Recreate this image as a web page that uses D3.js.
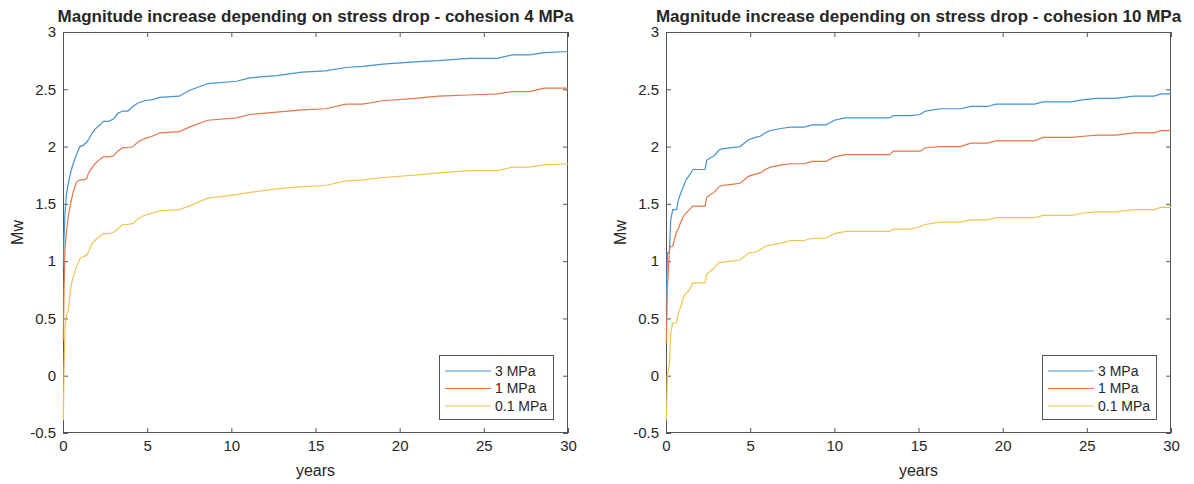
<!DOCTYPE html>
<html>
<head>
<meta charset="utf-8">
<script src="https://cdn.jsdelivr.net/npm/d3@7"></script>
<style>
  body { margin: 0; background: #fff; }
  text { font-family: "Liberation Sans", Arial, sans-serif; fill: #262626; }
</style>
</head>
<body>
<div id="chart"></div>
<script>
// series names and colours (legend order)
const seriesNames = ["3 MPa", "1 MPa", "0.1 MPa"];
const seriesColors = ["#4393d3", "#e2774a", "#f1c451"];

// cohesion 4 MPa panel
const yearsC4 = [0.02, 0.06, 0.12, 0.2, 0.32, 0.45, 0.6, 0.8, 1.0, 1.2, 1.4, 1.52, 1.7, 1.9, 2.2, 2.4, 2.7, 3.0, 3.25, 3.55, 3.85, 4.15, 4.45, 4.85, 5.3, 5.75, 6.9, 7.5, 8.6, 10.3, 11.1, 12.7, 14.2, 15.6, 16.8, 17.8, 19.0, 20.9, 22.3, 24.1, 25.8, 26.7, 27.7, 28.6, 30];
const mw3C4 = [0.95, 1.2, 1.42, 1.58, 1.68, 1.77, 1.85, 1.93, 2.0, 2.01, 2.04, 2.06, 2.11, 2.15, 2.19, 2.22, 2.22, 2.24, 2.29, 2.31, 2.31, 2.35, 2.38, 2.40, 2.41, 2.43, 2.44, 2.49, 2.55, 2.57, 2.60, 2.62, 2.65, 2.66, 2.69, 2.70, 2.72, 2.74, 2.75, 2.77, 2.77, 2.80, 2.80, 2.82, 2.83];
const mw1C4 = [0.31, 0.75, 1.1, 1.25, 1.4, 1.5, 1.6, 1.69, 1.71, 1.71, 1.72, 1.77, 1.81, 1.85, 1.89, 1.91, 1.91, 1.92, 1.96, 1.99, 1.99, 2.0, 2.04, 2.07, 2.09, 2.12, 2.13, 2.17, 2.23, 2.25, 2.28, 2.30, 2.32, 2.33, 2.37, 2.37, 2.40, 2.42, 2.44, 2.45, 2.46, 2.48, 2.48, 2.51, 2.51];
const mw01C4 = [-0.39, 0.05, 0.42, 0.52, 0.58, 0.76, 0.86, 0.95, 1.02, 1.04, 1.05, 1.08, 1.15, 1.18, 1.22, 1.24, 1.24, 1.25, 1.28, 1.32, 1.32, 1.33, 1.37, 1.40, 1.42, 1.44, 1.45, 1.48, 1.55, 1.58, 1.60, 1.63, 1.65, 1.66, 1.70, 1.71, 1.73, 1.75, 1.77, 1.79, 1.79, 1.82, 1.82, 1.84, 1.85];

// cohesion 10 MPa panel
const yearsC10 = [0.02, 0.08, 0.2, 0.28, 0.4, 0.63, 0.73, 0.87, 1.03, 1.19, 1.39, 1.6, 2.32, 2.42, 2.62, 2.86, 3.15, 3.31, 3.9, 4.4, 4.9, 5.3, 5.6, 5.9, 6.2, 6.9, 7.4, 8.2, 8.7, 9.5, 10.0, 10.65, 13.3, 13.5, 14.5, 15.1, 15.4, 16.3, 17.5, 18.1, 19.1, 19.6, 21.9, 22.4, 24.1, 24.8, 25.6, 26.7, 27.8, 29.0, 29.4, 30];
const mw3C10 = [0.57, 1.07, 1.08, 1.36, 1.45, 1.45, 1.53, 1.59, 1.65, 1.71, 1.75, 1.80, 1.80, 1.88, 1.90, 1.92, 1.97, 1.98, 1.99, 2.0, 2.06, 2.08, 2.09, 2.12, 2.14, 2.16, 2.17, 2.17, 2.19, 2.19, 2.23, 2.25, 2.25, 2.27, 2.27, 2.28, 2.31, 2.33, 2.33, 2.35, 2.35, 2.37, 2.37, 2.39, 2.39, 2.41, 2.42, 2.42, 2.44, 2.44, 2.46, 2.46];
const mw1C10 = [0.28, 0.75, 1.1, 1.13, 1.13, 1.26, 1.28, 1.34, 1.39, 1.42, 1.45, 1.48, 1.48, 1.56, 1.58, 1.60, 1.65, 1.66, 1.67, 1.68, 1.74, 1.76, 1.77, 1.80, 1.82, 1.84, 1.85, 1.85, 1.87, 1.87, 1.91, 1.93, 1.93, 1.96, 1.96, 1.96, 1.99, 2.0, 2.0, 2.03, 2.03, 2.05, 2.05, 2.08, 2.08, 2.09, 2.10, 2.10, 2.12, 2.12, 2.14, 2.14];
const mw01C10 = [-0.39, 0.01, 0.1, 0.37, 0.46, 0.46, 0.55, 0.6, 0.68, 0.72, 0.75, 0.81, 0.81, 0.89, 0.91, 0.94, 0.99, 0.99, 1.0, 1.01, 1.07, 1.08, 1.10, 1.13, 1.14, 1.16, 1.18, 1.18, 1.20, 1.20, 1.24, 1.26, 1.26, 1.28, 1.28, 1.30, 1.32, 1.34, 1.34, 1.36, 1.36, 1.38, 1.38, 1.40, 1.40, 1.42, 1.43, 1.43, 1.45, 1.45, 1.47, 1.47];

const xTicks = [0, 5, 10, 15, 20, 25, 30];
const yTicks = [-0.5, 0, 0.5, 1, 1.5, 2, 2.5, 3];

const panels = [
  { title: "Magnitude increase depending on stress drop - cohesion 4 MPa",
    years: yearsC4, series: [mw3C4, mw1C4, mw01C4], left: 63 },
  { title: "Magnitude increase depending on stress drop - cohesion 10 MPa",
    years: yearsC10, series: [mw3C10, mw1C10, mw01C10], left: 666 }
];

const width = 1194, height = 484;
const plotW = 505, plotTop = 32, plotBottom = 433;
const axisColor = "#555";

const svg = d3.select("#chart").append("svg")
  .attr("width", width)
  .attr("height", height);

panels.forEach(p => {
  const x = d3.scaleLinear().domain([0, 30]).range([p.left, p.left + plotW]);
  const y = d3.scaleLinear().domain([-0.5, 3]).range([plotBottom, plotTop]);
  const g = svg.append("g");

  // axes, ticks pointing inward like matlab
  const fmt = d => String(d);
  const bx = g.append("g").attr("transform", `translate(0,${plotBottom})`)
    .call(d3.axisBottom(x).tickValues(xTicks).tickFormat(fmt).tickSize(-5).tickSizeOuter(0).tickPadding(7));
  const tx = g.append("g").attr("transform", `translate(0,${plotTop})`)
    .call(d3.axisTop(x).tickValues(xTicks).tickFormat("").tickSize(-5).tickSizeOuter(0));
  const ly = g.append("g").attr("transform", `translate(${p.left},0)`)
    .call(d3.axisLeft(y).tickValues(yTicks).tickFormat(fmt).tickSize(-5).tickSizeOuter(0).tickPadding(7));
  const ry = g.append("g").attr("transform", `translate(${p.left + plotW},0)`)
    .call(d3.axisRight(y).tickValues(yTicks).tickFormat("").tickSize(-5).tickSizeOuter(0));
  [bx, tx, ly, ry].forEach(a => {
    a.select(".domain").remove();
    a.selectAll("line").attr("stroke", axisColor);
    a.selectAll("text").style("font-size", "15px").attr("fill", "#262626");
  });

  g.append("rect")
    .attr("x", p.left + 0.5).attr("y", plotTop + 0.5)
    .attr("width", plotW - 1).attr("height", plotBottom - plotTop - 1)
    .attr("fill", "none").attr("stroke", axisColor);

  // the lines
  const line = d3.line()
    .x((d, i) => x(p.years[i]))
    .y(d => y(d));
  p.series.forEach((s, k) => {
    g.append("path")
      .datum(s)
      .attr("d", line)
      .attr("fill", "none")
      .attr("stroke", seriesColors[k])
      .attr("stroke-width", 1.2);
  });

  // title and labels
  g.append("text")
    .attr("x", p.left + plotW / 2).attr("y", 22)
    .attr("text-anchor", "middle")
    .style("font-size", "17px").style("font-weight", "bold")
    .attr("fill", "#000")
    .text(p.title);
  g.append("text")
    .attr("x", p.left + plotW / 2).attr("y", 476)
    .attr("text-anchor", "middle")
    .style("font-size", "16px")
    .text("years");
  g.append("text")
    .attr("transform", `translate(${p.left - 40},${(plotTop + plotBottom) / 2}) rotate(-90)`)
    .attr("text-anchor", "middle")
    .style("font-size", "16px")
    .text("Mw");

  // legend
  const lgW = 114, lgH = 64;
  const lgX = p.left + plotW - 15 - lgW, lgY = plotBottom - 14 - lgH;
  const lg = g.append("g").attr("transform", `translate(${lgX},${lgY})`);
  lg.append("rect").attr("x", 0.5).attr("y", 0.5)
    .attr("width", lgW).attr("height", lgH)
    .attr("fill", "#fff").attr("stroke", axisColor);
  seriesNames.forEach((name, k) => {
    const ry2 = 16 + k * 17.5;
    lg.append("line")
      .attr("x1", 6).attr("x2", 52).attr("y1", ry2).attr("y2", ry2)
      .attr("stroke", seriesColors[k]).attr("stroke-width", 1.2);
    lg.append("text")
      .attr("x", 56).attr("y", ry2).attr("dy", "0.35em")
      .style("font-size", "14px")
      .text(name);
  });
});
</script>
</body>
</html>
